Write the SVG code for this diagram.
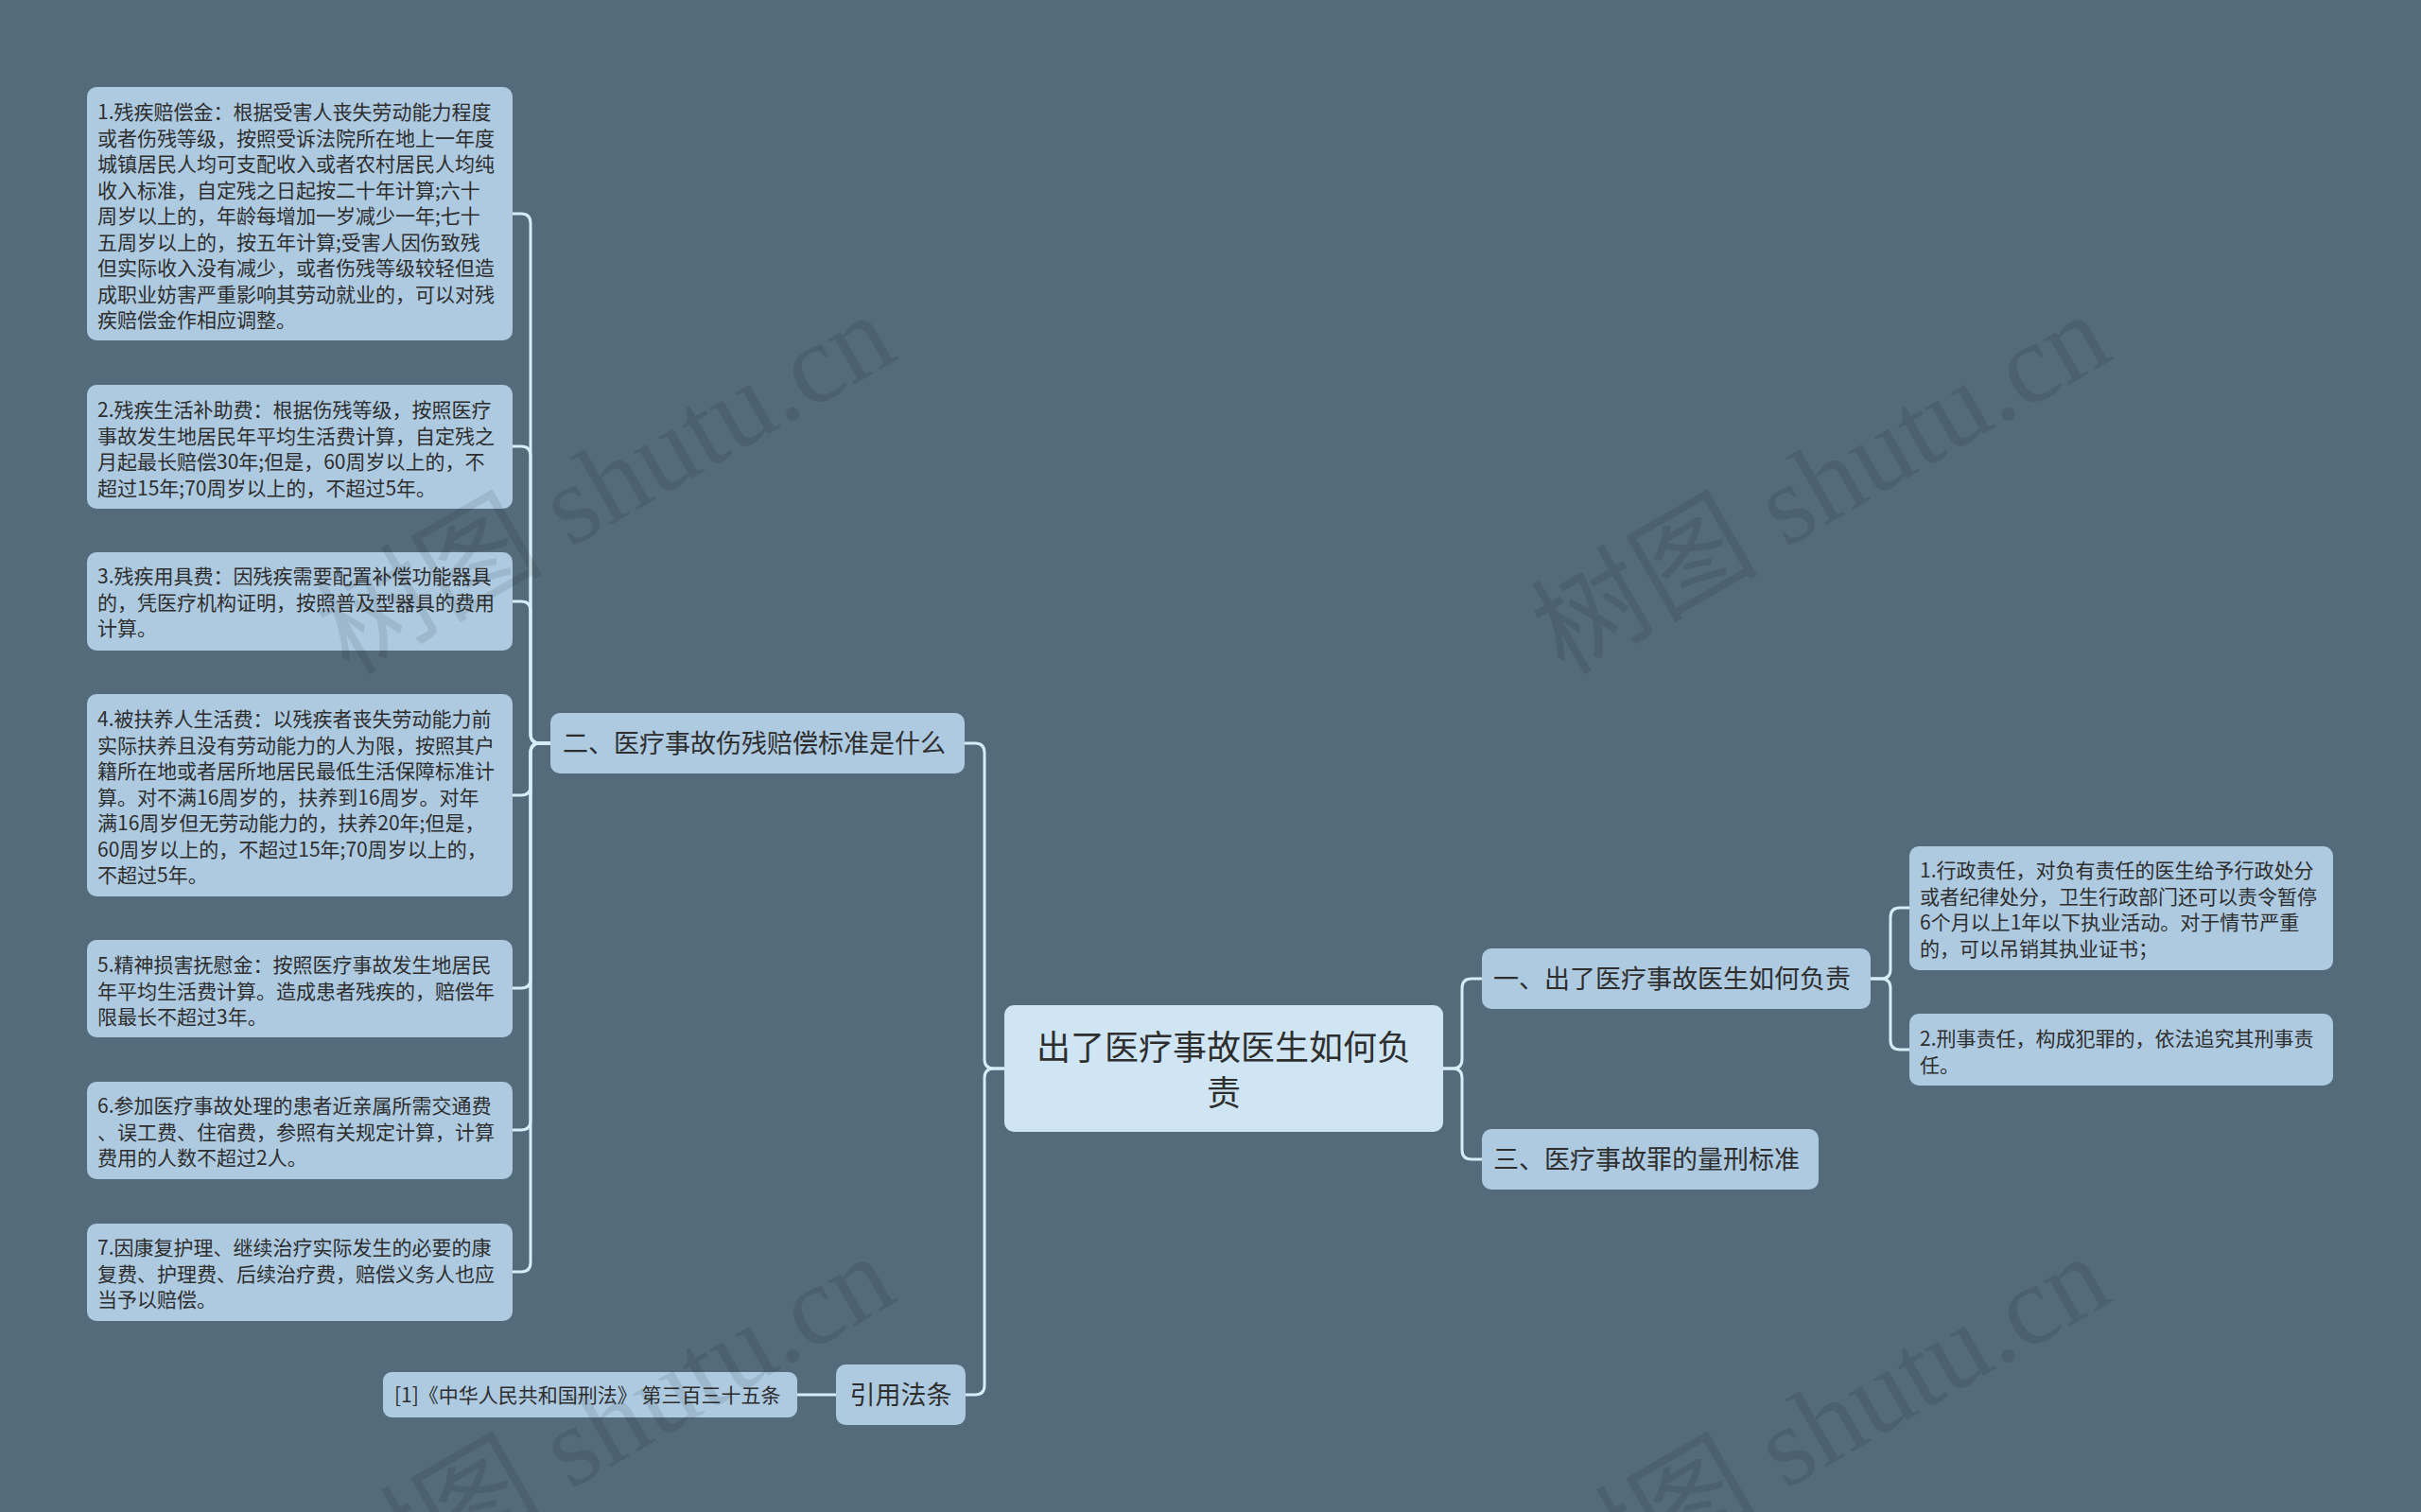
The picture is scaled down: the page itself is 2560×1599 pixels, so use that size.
<svg xmlns="http://www.w3.org/2000/svg" width="2560" height="1599" viewBox="0 0 2560 1599">
<style>
.bg{fill:#546b7b}
.leaf{fill:#adcae1}
.root{fill:#cfe5f3}
.t{font-family:"Noto Sans CJK SC","Noto Sans",sans-serif;fill:#2e2e2e}
.s{font-size:21px}
.m{font-size:27px}
.l{font-size:36px}
.c{fill:none;stroke:#d6ecf7;stroke-width:3}
.wm{font-family:"Liberation Serif","Noto Sans CJK SC",serif;font-size:120px;fill:#000;fill-opacity:0.09}
</style>
<rect class="bg" x="0" y="0" width="2560" height="1599"/>
<g id="connectors">
<path class="c" d="M1062,1130 H1051 Q1041,1130 1041,1120 V796 Q1041,786 1031,786 H1020"/>
<path class="c" d="M1062,1130 H1051 Q1041,1130 1041,1140 V1465 Q1041,1475 1031,1475 H1021"/>
<path class="c" d="M884,1475 H843"/>
<path class="c" d="M582,786 H571 Q561,786 561,776 V236 Q561,226 551,226 H542"/>
<path class="c" d="M582,786 H571 Q561,786 561,776 V482 Q561,472 551,472 H542"/>
<path class="c" d="M582,786 H571 Q561,786 561,776 V646 Q561,636 551,636 H542"/>
<path class="c" d="M582,786 H571 Q561,786 561,796 V831 Q561,841 551,841 H542"/>
<path class="c" d="M582,786 H571 Q561,786 561,796 V1035 Q561,1045 551,1045 H542"/>
<path class="c" d="M582,786 H571 Q561,786 561,796 V1185 Q561,1195 551,1195 H542"/>
<path class="c" d="M582,786 H571 Q561,786 561,796 V1335 Q561,1345 551,1345 H542"/>
<path class="c" d="M1526,1130 H1536 Q1546,1130 1546,1120 V1045 Q1546,1035 1556,1035 H1567"/>
<path class="c" d="M1526,1130 H1536 Q1546,1130 1546,1140 V1216 Q1546,1226 1556,1226 H1567"/>
<path class="c" d="M1978,1035 H1989 Q1999,1035 1999,1025 V970 Q1999,960 2009,960 H2019"/>
<path class="c" d="M1978,1035 H1989 Q1999,1035 1999,1045 V1100 Q1999,1110 2009,1110 H2019"/>
</g>
<g id="root">
<rect class="root" x="1062" y="1063" width="464" height="134" rx="10"/>
<text class="t l" text-anchor="middle"><tspan x="1294" y="1121">出了医疗事故医生如何负</tspan><tspan x="1294" y="1169">责</tspan></text>
</g>
<g id="b2">
<rect class="leaf" x="582" y="754" width="438" height="64" rx="10"/>
<text class="t m" x="595" y="796">二、医疗事故伤残赔偿标准是什么</text>
</g>
<g id="b1">
<rect class="leaf" x="1567" y="1003" width="411" height="64" rx="10"/>
<text class="t m" x="1579" y="1045">一、出了医疗事故医生如何负责</text>
</g>
<g id="b3">
<rect class="leaf" x="1567" y="1194" width="356" height="64" rx="10"/>
<text class="t m" x="1579" y="1236">三、医疗事故罪的量刑标准</text>
</g>
<g id="bref">
<rect class="leaf" x="884" y="1443" width="137" height="64" rx="10"/>
<text class="t m" x="952.5" y="1485" text-anchor="middle">引用法条</text>
</g>
<g id="ref1">
<rect class="leaf" x="405" y="1451" width="438" height="48" rx="9"/>
<text class="t s" x="417" y="1483">[1]《中华人民共和国刑法》 第三百三十五条</text>
</g>
<g id="l1">
<rect class="leaf" x="92" y="92" width="450" height="268" rx="10"/>
<text class="t s"><tspan x="103" y="126">1.残疾赔偿金：根据受害人丧失劳动能力程度</tspan><tspan x="103" dy="27.5">或者伤残等级，按照受诉法院所在地上一年度</tspan><tspan x="103" dy="27.5">城镇居民人均可支配收入或者农村居民人均纯</tspan><tspan x="103" dy="27.5">收入标准，自定残之日起按二十年计算;六十</tspan><tspan x="103" dy="27.5">周岁以上的，年龄每增加一岁减少一年;七十</tspan><tspan x="103" dy="27.5">五周岁以上的，按五年计算;受害人因伤致残</tspan><tspan x="103" dy="27.5">但实际收入没有减少，或者伤残等级较轻但造</tspan><tspan x="103" dy="27.5">成职业妨害严重影响其劳动就业的，可以对残</tspan><tspan x="103" dy="27.5">疾赔偿金作相应调整。</tspan></text>
</g>
<g id="l2">
<rect class="leaf" x="92" y="407" width="450" height="131" rx="10"/>
<text class="t s"><tspan x="103" y="441">2.残疾生活补助费：根据伤残等级，按照医疗</tspan><tspan x="103" dy="27.5">事故发生地居民年平均生活费计算，自定残之</tspan><tspan x="103" dy="27.5">月起最长赔偿30年;但是，60周岁以上的，不</tspan><tspan x="103" dy="27.5">超过15年;70周岁以上的，不超过5年。</tspan></text>
</g>
<g id="l3">
<rect class="leaf" x="92" y="584" width="450" height="104" rx="10"/>
<text class="t s"><tspan x="103" y="617">3.残疾用具费：因残疾需要配置补偿功能器具</tspan><tspan x="103" dy="27.5">的，凭医疗机构证明，按照普及型器具的费用</tspan><tspan x="103" dy="27.5">计算。</tspan></text>
</g>
<g id="l4">
<rect class="leaf" x="92" y="734" width="450" height="214" rx="10"/>
<text class="t s"><tspan x="103" y="768">4.被扶养人生活费：以残疾者丧失劳动能力前</tspan><tspan x="103" dy="27.5">实际扶养且没有劳动能力的人为限，按照其户</tspan><tspan x="103" dy="27.5">籍所在地或者居所地居民最低生活保障标准计</tspan><tspan x="103" dy="27.5">算。对不满16周岁的，扶养到16周岁。对年</tspan><tspan x="103" dy="27.5">满16周岁但无劳动能力的，扶养20年;但是，</tspan><tspan x="103" dy="27.5">60周岁以上的，不超过15年;70周岁以上的，</tspan><tspan x="103" dy="27.5">不超过5年。</tspan></text>
</g>
<g id="l5">
<rect class="leaf" x="92" y="994" width="450" height="103" rx="10"/>
<text class="t s"><tspan x="103" y="1028">5.精神损害抚慰金：按照医疗事故发生地居民</tspan><tspan x="103" dy="27.5">年平均生活费计算。造成患者残疾的，赔偿年</tspan><tspan x="103" dy="27.5">限最长不超过3年。</tspan></text>
</g>
<g id="l6">
<rect class="leaf" x="92" y="1144" width="450" height="103" rx="10"/>
<text class="t s"><tspan x="103" y="1177">6.参加医疗事故处理的患者近亲属所需交通费</tspan><tspan x="103" dy="27.5">、误工费、住宿费，参照有关规定计算，计算</tspan><tspan x="103" dy="27.5">费用的人数不超过2人。</tspan></text>
</g>
<g id="l7">
<rect class="leaf" x="92" y="1294" width="450" height="103" rx="10"/>
<text class="t s"><tspan x="103" y="1327">7.因康复护理、继续治疗实际发生的必要的康</tspan><tspan x="103" dy="27.5">复费、护理费、后续治疗费，赔偿义务人也应</tspan><tspan x="103" dy="27.5">当予以赔偿。</tspan></text>
</g>
<g id="r1">
<rect class="leaf" x="2019" y="895" width="448" height="131" rx="10"/>
<text class="t s"><tspan x="2030" y="928">1.行政责任，对负有责任的医生给予行政处分</tspan><tspan x="2030" dy="27.5">或者纪律处分，卫生行政部门还可以责令暂停</tspan><tspan x="2030" dy="27.5">6个月以上1年以下执业活动。对于情节严重</tspan><tspan x="2030" dy="27.5">的，可以吊销其执业证书；</tspan></text>
</g>
<g id="r2">
<rect class="leaf" x="2019" y="1072" width="448" height="76" rx="10"/>
<text class="t s"><tspan x="2030" y="1106">2.刑事责任，构成犯罪的，依法追究其刑事责</tspan><tspan x="2030" dy="27.5">任。</tspan></text>
</g>
<g id="watermark">
<text class="wm" x="369" y="715" transform="rotate(-30 369 715)">树图 shutu.cn</text>
<text class="wm" x="1654" y="715" transform="rotate(-30 1654 715)">树图 shutu.cn</text>
<text class="wm" x="369" y="1711" transform="rotate(-30 369 1711)">树图 shutu.cn</text>
<text class="wm" x="1654" y="1711" transform="rotate(-30 1654 1711)">树图 shutu.cn</text>
</g>
</svg>
